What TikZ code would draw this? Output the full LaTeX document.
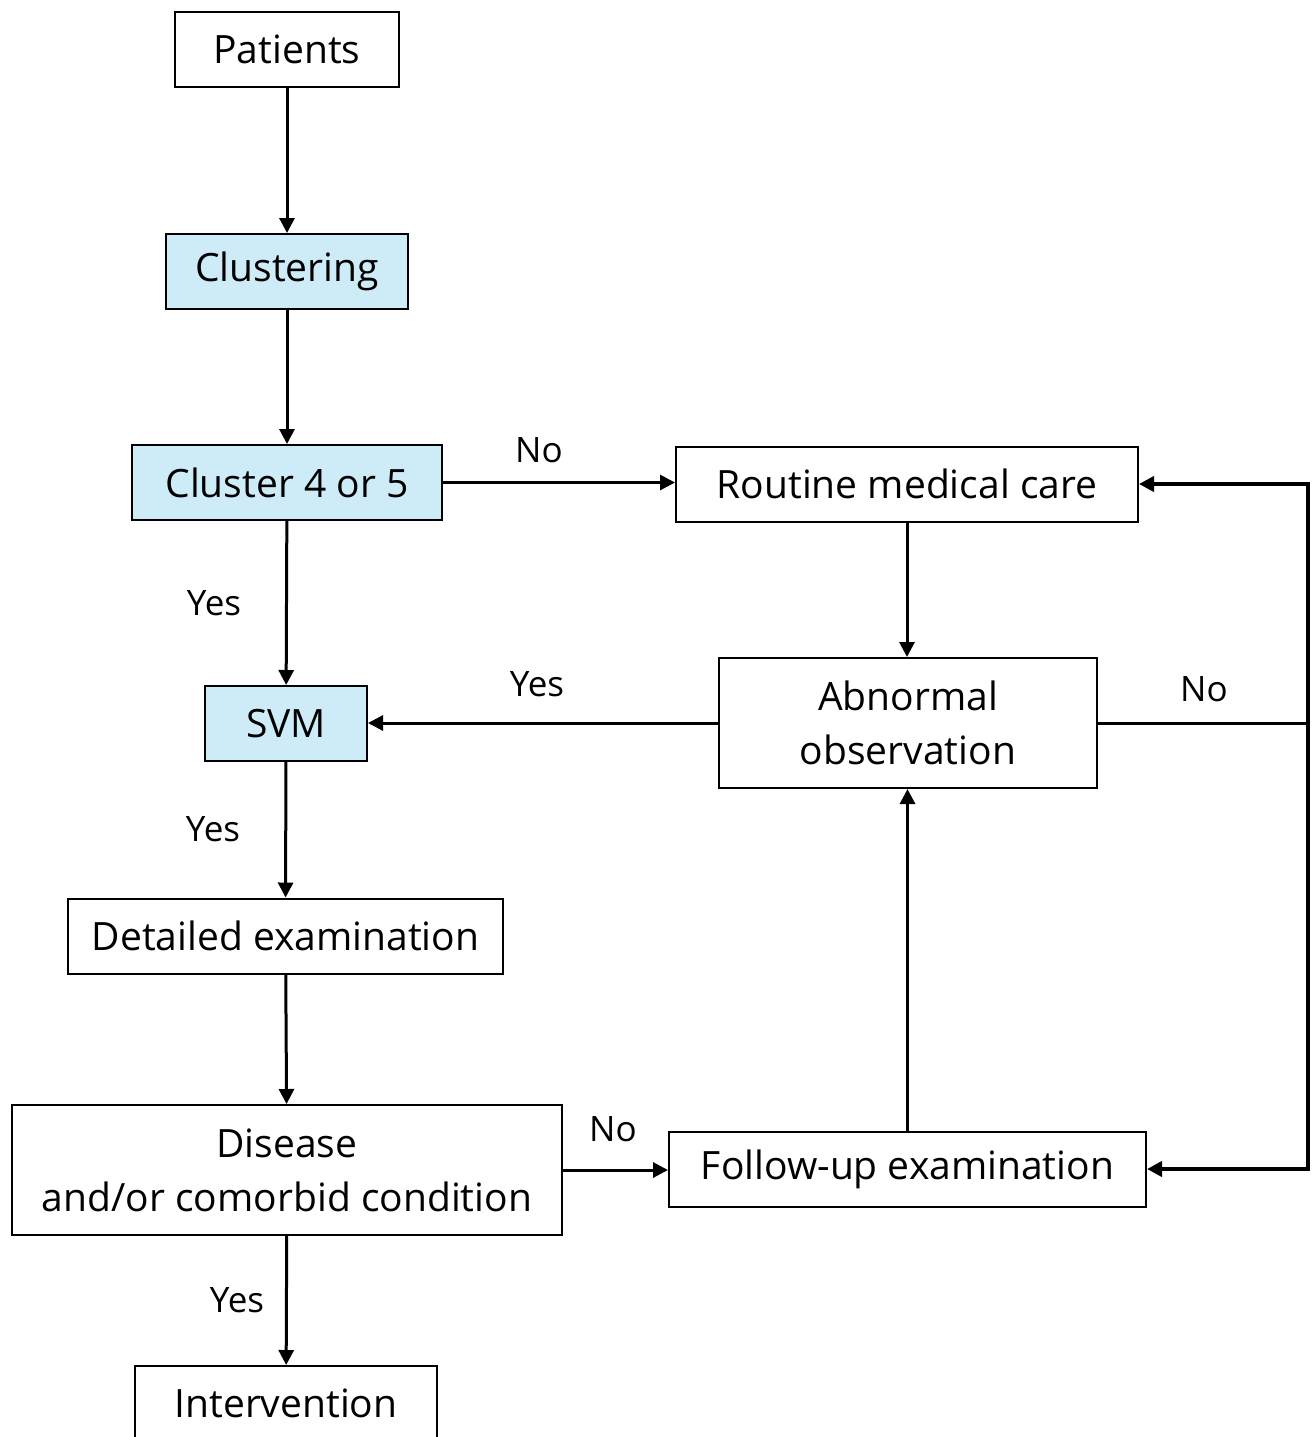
\documentclass[tikz,border=0pt]{standalone}
\usepackage{fontspec}
\setmainfont{Open Sans}
\usepackage{xcolor}
\usetikzlibrary{arrows.meta, positioning, calc}
\definecolor{clustercolor}{RGB}{205,236,248}
\tikzstyle{arrow} = [line width=1.5pt,-{Triangle[length=7.5pt,width=7.5pt]}]
\tikzstyle{line} = [line width=1.5pt]
\tikzstyle{box} = [rectangle, draw, line width=1pt, fill=white, align=center, inner sep=0pt, minimum height=37.5pt, font=\fontsize{19.5}{27}\selectfont]
\tikzstyle{answer} = [inner sep=0pt, font=\fontsize{17.5}{21}\selectfont]

\begin{document}
\begin{tikzpicture}[x=0.5pt, y=-0.5pt]
\useasboundingbox (0,0) rectangle (1314,1437);

% Boxes
\node[box, minimum width=112pt] (patients) at (287,49.5) {Patients};
\node[box, fill=clustercolor, minimum width=121pt] (clustering) at (287,271.5) {Clustering};
\node[box, fill=clustercolor, minimum width=155pt] (cluster) at (287,482.5) {Cluster 4 or 5};
\node[box, fill=clustercolor, minimum width=81pt] (svm) at (286,723.5) {SVM};
\node[box, minimum width=217.5pt] (detailed) at (285.5,936) {Detailed examination};
\node[box, minimum width=275pt, minimum height=65pt] (disease) at (287,1170) {Disease\\and/or comorbid condition};
\node[box, minimum width=151pt] (intervention) at (286,1403.5) {Intervention};
\node[box, minimum width=231pt] (routine) at (907,484) {Routine medical care};
\node[box, minimum width=189pt, minimum height=65pt] (abnormal) at (908,723) {Abnormal\\observation};
\node[box, minimum width=238.5pt] (followup) at (907.5,1169) {Follow-up examination};

% Loop on the right
\coordinate (looptop) at (1308,484);
\coordinate (loopbot) at (1308,1169);

% Arrows
\draw[arrow] (patients) -- (clustering);
\draw[arrow] (clustering) -- (cluster);
\draw[arrow] (cluster) -- (svm);
\draw[arrow] (svm) -- (detailed);
\draw[arrow] (detailed) -- (disease);
\draw[arrow] (disease) -- (intervention);
\draw[arrow] (cluster.east) -- (cluster.east -| routine.west);
\draw[arrow] (routine.south) -- (routine.south |- abnormal.north);
\draw[arrow] (abnormal.west) -- (abnormal.west -| svm.east);
\draw[arrow] (disease.east) -- (disease.east -| followup.west);
\draw[arrow] (followup.north) -- (followup.north |- abnormal.south);
\draw[line] (abnormal.east) -- (abnormal.east -| looptop);
\draw[arrow, line width=2pt] (loopbot) -- (looptop) -- (routine.east);
\draw[arrow, line width=2pt] (looptop) -- (loopbot) -- (followup.east);

% Labels
\node[answer] (no1) at (539,450) {No};
\node[answer] (yes1) at (214,603) {Yes};
\node[answer] (yes2) at (537,684) {Yes};
\node[answer] (no2) at (1204,689) {No};
\node[answer] (yes3) at (213,829) {Yes};
\node[answer] (no3) at (613,1129) {No};
\node[answer] (yes4) at (237,1300) {Yes};

\end{tikzpicture}
\end{document}
